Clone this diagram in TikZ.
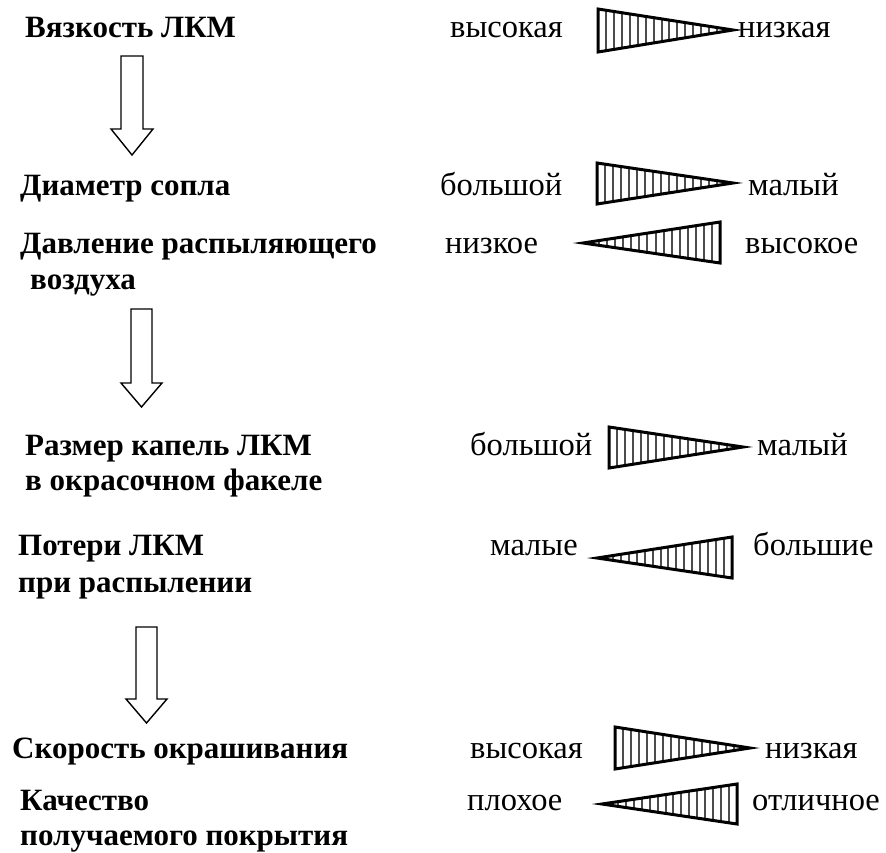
\documentclass[tikz,border=0pt]{standalone}
\usepackage{fontspec}
\setmainfont{LiberationSerif}[Extension=.ttf,
  UprightFont=*-Regular, BoldFont=*-Bold,
  ItalicFont=*-Italic, BoldItalicFont=*-BoldItalic]

% hatched wedge: wide edge at x=#1 (from y=#2 to y=#3), point at (#4,#5)
\newcommand\hatchwedge[5]{%
  \begin{scope}
    \clip (#1,#2) -- (#4,#5) -- (#1,#3) -- cycle;
    \foreach \k in {0,...,16}
      \draw[hatch] ({#1+(#4-#1)*\k/17},#2) -- ({#1+(#4-#1)*\k/17},#3);
  \end{scope}
  \draw[wedgeline] (#1,#2) -- (#4,#5) -- (#1,#3) -- cycle;
}

% hollow block arrow pointing down:
% shaft x #1..#2, head x #3..#4, top y #5, shoulder y #6, tip y #7
\newcommand\blockdown[7]{%
  \draw[blockarrow] (#1,#5) -- (#2,#5) -- (#2,#6) -- (#4,#6)
    -- ({(#3+#4)/2},#7) -- (#3,#6) -- (#1,#6) -- cycle;
}

\begin{document}
\begin{tikzpicture}[x=1pt,y=-1pt,
  title/.style={font=\bfseries\fontsize{31}{37}\selectfont, anchor=base west, inner sep=0pt},
  word/.style={font=\fontsize{32.5}{39}\selectfont, anchor=base west, inner sep=0pt},
  hatch/.style={line width=2pt, draw=black!70},
  wedgeline/.style={line width=3pt, line join=miter},
  blockarrow/.style={draw, line width=1.4pt, line join=miter, fill=white}]

\useasboundingbox (0,0) rectangle (886,852);

% viscosity
\node[title] (visc) at (25,37) {Вязкость ЛКМ};
\node[word] (visc-hi) at (450,37) {высокая};
\hatchwedge{598}{9}{52}{733}{30}
\node[word] (visc-lo) at (738,37) {низкая};

\blockdown{121}{143}{111}{153}{56}{129}{155}

% nozzle diameter
\node[title] (nozzle) at (20,195) {Диаметр сопла};
\node[word] (nozzle-big) at (440,195) {большой};
\hatchwedge{597}{163}{204}{733}{183}
\node[word] (nozzle-small) at (748,195) {малый};

% air pressure
\node[title] (press) at (20,253) {Давление распыляющего};
\node[title] (press2) at (30,289) {воздуха};
\node[word] (press-lo) at (445,253) {низкое};
\hatchwedge{720}{222}{263}{583}{243}
\node[word] (press-hi) at (745,253) {высокое};

\blockdown{131}{152}{121}{162}{309}{383}{407}

% droplet size
\node[title] (drop) at (25,455) {Размер капель ЛКМ};
\node[title] (drop2) at (25,490) {в окрасочном факеле};
\node[word] (drop-big) at (470,455) {большой};
\hatchwedge{609}{427}{468}{743}{447}
\node[word] (drop-small) at (757,455) {малый};

% losses
\node[title] (loss) at (18,555) {Потери ЛКМ};
\node[title] (loss2) at (18,592) {при распылении};
\node[word] (loss-small) at (490,555) {малые};
\hatchwedge{732}{537}{578}{597}{558}
\node[word] (loss-big) at (753,555) {большие};

\blockdown{136}{157}{126}{167}{627}{699}{723}

% painting speed
\node[title] (speed) at (12,758) {Скорость окрашивания};
\node[word] (speed-hi) at (470,758) {высокая};
\hatchwedge{615}{727}{769}{750}{748}
\node[word] (speed-lo) at (765,758) {низкая};

% coating quality
\node[title] (qual) at (20,810) {Качество};
\node[title] (qual2) at (20,845) {получаемого покрытия};
\node[word] (qual-bad) at (467,810) {плохое};
\hatchwedge{737}{784}{824}{602}{804}
\node[word] (qual-good) at (752,810) {отличное};

\end{tikzpicture}
\end{document}
